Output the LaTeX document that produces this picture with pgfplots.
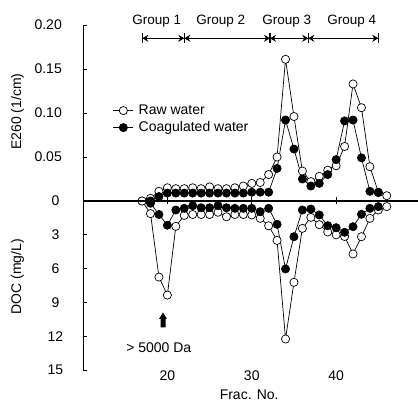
\documentclass[border=0pt]{standalone}
\usepackage{fontspec}
\setmainfont{Liberation Sans}
\usepackage{pgfplots}
\pgfplotsset{compat=1.18}
\usepackage{pgfplotstable}
\usetikzlibrary{arrows.meta}

\newcommand\fs{\fontsize{14pt}{16pt}\selectfont}

% E260 (1/cm), raw water
\pgfplotstableread{
f v
17 0.000
18 0.003
19 0.011
20 0.015
21 0.014
22 0.014
23 0.015
24 0.014
25 0.016
26 0.014
27 0.014
28 0.015
29 0.017
30 0.020
31 0.021
32 0.030
33 0.050
34 0.161
35 0.096
36 0.034
37 0.022
38 0.028
39 0.035
40 0.040
41 0.062
42 0.133
43 0.106
44 0.039
45 0.010
46 0.006
}\rawE

% E260 (1/cm), coagulated water
\pgfplotstableread{
f v
18 0.000
19 0.005
20 0.009
21 0.009
22 0.009
23 0.009
24 0.009
25 0.009
26 0.009
27 0.009
28 0.009
29 0.009
30 0.010
31 0.010
32 0.010
33 0.037
34 0.092
35 0.059
36 0.025
37 0.017
38 0.020
39 0.030
40 0.047
41 0.091
42 0.092
43 0.049
44 0.011
45 0.0095
}\coagE

% DOC (mg/L), raw water
\pgfplotstableread{
f v
17 0.0
18 1.12
19 6.75
20 8.35
21 2.25
22 1.28
23 1.2
24 1.2
25 1.2
26 1.0
27 1.4
28 1.2
29 1.2
30 1.24
31 1.54
32 2.2
33 3.5
34 12.25
35 7.22
36 2.43
37 1.45
38 2.1
39 2.75
40 3.0
41 3.15
42 4.7
43 3.17
44 1.54
45 0.8
46 0.5
}\rawD

% DOC (mg/L), coagulated water
\pgfplotstableread{
f v
18 0.2
19 1.2
20 2.15
21 0.8
22 0.65
23 0.42
24 0.6
25 0.6
26 0.42
27 0.6
28 0.65
29 0.65
30 0.65
31 0.95
32 0.65
33 2.07
34 6.03
35 3.17
36 0.8
37 0.71
38 1.24
39 2.19
40 2.37
41 2.78
42 2.28
43 1.18
44 0.65
45 0.5
}\coagD

\begin{document}
\begin{tikzpicture}
\useasboundingbox (0,0) rectangle (418pt,401pt);
\pgfplotsset{
  panel/.style={scale only axis, width=335pt, xmin=10, xmax=49.7, clip=false,
    tick align=inside, major tick length=4pt,
    tick style={line width=0.9pt, black},
    y axis line style={line width=0.9pt},
    ticklabel style={font=\fs, inner sep=0pt}},
  rawplot/.style={black, line width=0.7pt, mark=*, mark size=4.1pt,
    mark options={fill=white, draw=black, line width=0.7pt}},
  coagplot/.style={black, line width=0.7pt, mark=*, mark size=4.1pt,
    mark options={fill=black}},
}

% upper panel: E260
\begin{axis}[panel, at={(83pt,200pt)}, anchor=south west, height=176pt,
  ymin=0, ymax=0.2, hide x axis, axis y line*=left,
  ytick={0.05,0.10,0.15,0.20}, yticklabels={0.05,0.10,0.15,0.20},
  yticklabel style={anchor=east, xshift=-21pt},
  legend style={draw=none, fill=none, at={(0.08,0.563)}, anchor=north west,
    font=\fs, row sep=4pt, column sep=5pt,
    nodes={inner sep=0pt, text height=10pt, text depth=3pt}},
  legend cell align=left,
  legend image code/.code={\draw[mark repeat=2, mark phase=2, #1]
    plot coordinates {(0pt,0pt) (10pt,0pt) (20pt,0pt)};},
]
\addplot[rawplot] table[x=f, y=v] {\rawE};
\addlegendentry{Raw water}
\addplot[coagplot] table[x=f, y=v] {\coagE};
\addlegendentry{Coagulated water}
\end{axis}

% lower panel: DOC, drawn downwards
\begin{axis}[panel, at={(83pt,31pt)}, anchor=south west, height=169pt,
  ymin=-15, ymax=0, axis y line*=left, axis x line*=bottom,
  x axis line style={draw=none}, xtick style={draw=none},
  xtick={20,30,40}, xticklabels={20,30,40},
  xticklabel style={anchor=north, yshift=-1pt},
  ytick={-15,-12,-9,-6,-3,0}, yticklabels={15,12,9,6,3,0},
  yticklabel style={anchor=center, xshift=-27.5pt},
]
\addplot[rawplot] table[x=f, y expr=-\thisrow{v}] {\rawD};
\addplot[coagplot] table[x=f, y expr=-\thisrow{v}] {\coagD};
\end{axis}

% zero line with its ticks
\begin{axis}[scale only axis, width=335pt, height=176pt, at={(83pt,200pt)},
  anchor=south west, xmin=10, xmax=49.7, ymin=0, ymax=0.2,
  hide y axis, axis x line*=bottom, x axis line style={line width=1.3pt},
  xtick={20,30,40}, xticklabels={}, tick align=center, major tick length=7pt,
  xtick style={line width=0.9pt, black}]
\addplot[draw=none] coordinates {(20,0)};
\end{axis}

\begin{scope}[shift={(0pt,401pt)}, x=1pt, y=-1pt, every node/.style={inner sep=0pt}]
  \node[font=\fs, rotate=90] at (17.5,111.7) {E260 (1/cm)};
  \node[font=\fs, rotate=90] at (17.5,276.7) {DOC (mg/L)};
  \node[font=\fs, anchor=north] at (249.2,389.5) {Frac. No.};
  \node[font=\fs] at (158.8,348) {> 5000 Da};
  \fill (160.5,327.5) -- (160.5,319) -- (159,319) -- (163,312.5) -- (167,319)
    -- (165.5,319) -- (165.5,327.5) -- cycle;
  \foreach \t/\x in {Group 1/156.7, Group 2/220.8, Group 3/286.7, Group 4/351.7}
    \node[font=\fontsize{13.5pt}{15pt}\selectfont] at (\x,21) {\t};
  \foreach \x in {142.3,184.3,270,308.3,378.3}
    \draw[line width=1.4pt] (\x,33) -- (\x,43.5);
  \foreach \a/\b in {142.3/184.3, 184.3/270, 270/308.3, 308.3/378.3}
    \draw[line width=1.3pt, {Stealth[length=6pt,width=7pt]}-{Stealth[length=6pt,width=7pt]}]
      (\a,38.3) -- (\b,38.3);
\end{scope}
\end{tikzpicture}
\end{document}
